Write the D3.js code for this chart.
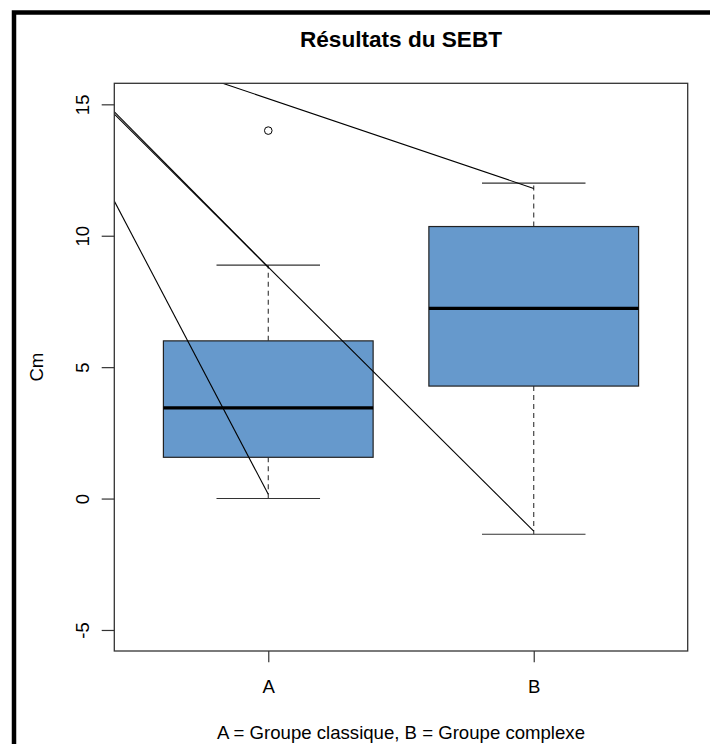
<!DOCTYPE html>
<html>
<head>
<meta charset="utf-8">
<script src="https://cdn.jsdelivr.net/npm/d3@7"></script>
<style>
  body { margin: 0; background: #fff; }
  text { font-family: "Liberation Sans", Arial, sans-serif; }
</style>
</head>
<body>
<div id="chart"></div>
<script>
// données
const groups = ["A", "B"];
const whiskerLow = [0, -1.36];
const q1 = [1.57, 4.28];
const medians = [3.45, 7.24];
const q3 = [6.0, 10.35];
const whiskerHigh = [8.88, 12.0];
const outlierGroups = ["A"];
const outlierValues = [14];
const yTicks = [-5, 0, 5, 10, 15];

// segments ajoutés par-dessus (x = position du groupe)
const segStartX = [0, 0, 0, 0];
const segStartY = [18.63, 19.0, 18.85, 19.4];
const segEndX = [2, 1, 2, 1];
const segEndY = [11.8, 8.8, -1.24, 0.16];

const width = 710, height = 744;
const plotLeft = 114.3, plotRight = 687.7, plotTop = 83.3, plotBottom = 651;
const fontSize = 18.6;

const svg = d3.select("#chart").append("svg")
  .attr("width", width)
  .attr("height", height);

const x = d3.scaleLinear().domain([0.42, 2.58]).range([plotLeft, plotRight]);
const y = d3.scaleLinear().domain([-5.8, 15.8]).range([plotBottom, plotTop]);

const boxHalf = 0.395, capHalf = 0.195;
const data = groups.map((g, i) => ({
  g, pos: i + 1,
  lo: whiskerLow[i], q1: q1[i], med: medians[i], q3: q3[i], hi: whiskerHigh[i]
}));

svg.append("defs").append("clipPath").attr("id", "plotclip")
  .append("rect")
  .attr("x", plotLeft).attr("y", plotTop)
  .attr("width", plotRight - plotLeft).attr("height", plotBottom - plotTop);

// boîtes
const box = svg.append("g").selectAll("g")
  .data(data)
  .enter().append("g");

box.append("line")
  .attr("x1", d => x(d.pos)).attr("x2", d => x(d.pos))
  .attr("y1", d => y(d.q3)).attr("y2", d => y(d.hi))
  .attr("stroke", "#333").attr("stroke-width", 1.1)
  .attr("stroke-dasharray", "5,4");
box.append("line")
  .attr("x1", d => x(d.pos)).attr("x2", d => x(d.pos))
  .attr("y1", d => y(d.q1)).attr("y2", d => y(d.lo))
  .attr("stroke", "#333").attr("stroke-width", 1.1)
  .attr("stroke-dasharray", "5,4");
box.append("line")
  .attr("x1", d => x(d.pos - capHalf)).attr("x2", d => x(d.pos + capHalf))
  .attr("y1", d => y(d.hi)).attr("y2", d => y(d.hi))
  .attr("stroke", "#333").attr("stroke-width", 1.1);
box.append("line")
  .attr("x1", d => x(d.pos - capHalf)).attr("x2", d => x(d.pos + capHalf))
  .attr("y1", d => y(d.lo)).attr("y2", d => y(d.lo))
  .attr("stroke", "#333").attr("stroke-width", 1.1);
box.append("rect")
  .attr("x", d => x(d.pos - boxHalf))
  .attr("width", d => x(d.pos + boxHalf) - x(d.pos - boxHalf))
  .attr("y", d => y(d.q3))
  .attr("height", d => y(d.q1) - y(d.q3))
  .attr("fill", "#6699CC")
  .attr("stroke", "#222").attr("stroke-width", 1.2);
box.append("line")
  .attr("x1", d => x(d.pos - boxHalf)).attr("x2", d => x(d.pos + boxHalf))
  .attr("y1", d => y(d.med)).attr("y2", d => y(d.med))
  .attr("stroke", "#000").attr("stroke-width", 3.2);

// valeurs extrêmes
svg.append("g").selectAll("circle")
  .data(outlierValues)
  .enter().append("circle")
  .attr("cx", (d, i) => x(groups.indexOf(outlierGroups[i]) + 1))
  .attr("cy", d => y(d))
  .attr("r", 3.8)
  .attr("fill", "none")
  .attr("stroke", "#000").attr("stroke-width", 1);

// segments
svg.append("g").attr("clip-path", "url(#plotclip)")
  .selectAll("line")
  .data(segStartX)
  .enter().append("line")
  .attr("x1", (d, i) => x(segStartX[i])).attr("y1", (d, i) => y(segStartY[i]))
  .attr("x2", (d, i) => x(segEndX[i])).attr("y2", (d, i) => y(segEndY[i]))
  .attr("stroke", "#000").attr("stroke-width", 1.1);

// cadre
svg.append("rect")
  .attr("x", plotLeft).attr("y", plotTop)
  .attr("width", plotRight - plotLeft).attr("height", plotBottom - plotTop)
  .attr("fill", "none").attr("stroke", "#333").attr("stroke-width", 1.3);

// axe y
const yAxis = svg.append("g")
  .attr("transform", `translate(${plotLeft},0)`)
  .call(d3.axisLeft(y).tickValues(yTicks).tickSize(12.6).tickFormat(d => String(d)));
yAxis.select(".domain").remove();
yAxis.selectAll("line").attr("stroke", "#333").attr("stroke-width", 1.2);
yAxis.selectAll("text")
  .attr("x", null).attr("dy", null)
  .attr("transform", "translate(-25,0) rotate(-90)")
  .attr("text-anchor", "middle")
  .attr("font-size", fontSize)
  .attr("font-family", "Liberation Sans, Arial, sans-serif")
  .attr("fill", "#000");

// axe x
const xAxis = svg.append("g")
  .attr("transform", `translate(0,${plotBottom})`)
  .call(d3.axisBottom(x).tickValues(groups.map((g, i) => i + 1))
    .tickSize(11.3).tickFormat((d, i) => groups[i]));
xAxis.select(".domain").remove();
xAxis.selectAll("line").attr("stroke", "#333").attr("stroke-width", 1.2);
xAxis.selectAll("text")
  .attr("y", 41.7).attr("dy", null)
  .attr("font-size", fontSize)
  .attr("font-family", "Liberation Sans, Arial, sans-serif")
  .attr("fill", "#000");

// titres
const cx = (plotLeft + plotRight) / 2;
svg.append("text")
  .attr("x", cx).attr("y", 46.5)
  .attr("text-anchor", "middle")
  .attr("font-size", 22.6).attr("font-weight", "bold")
  .text("Résultats du SEBT");

svg.append("text")
  .attr("x", cx).attr("y", 739)
  .attr("text-anchor", "middle")
  .attr("font-size", fontSize)
  .text("A = Groupe classique, B = Groupe complexe");

svg.append("text")
  .attr("transform", `translate(42.5,${(plotTop + plotBottom) / 2}) rotate(-90)`)
  .attr("text-anchor", "middle")
  .attr("font-size", fontSize)
  .text("Cm");

// bordure extérieure
svg.append("rect")
  .attr("x", 14).attr("y", 12.5)
  .attr("width", 730).attr("height", 770)
  .attr("fill", "none").attr("stroke", "#000").attr("stroke-width", 4.5);
</script>
</body>
</html>
